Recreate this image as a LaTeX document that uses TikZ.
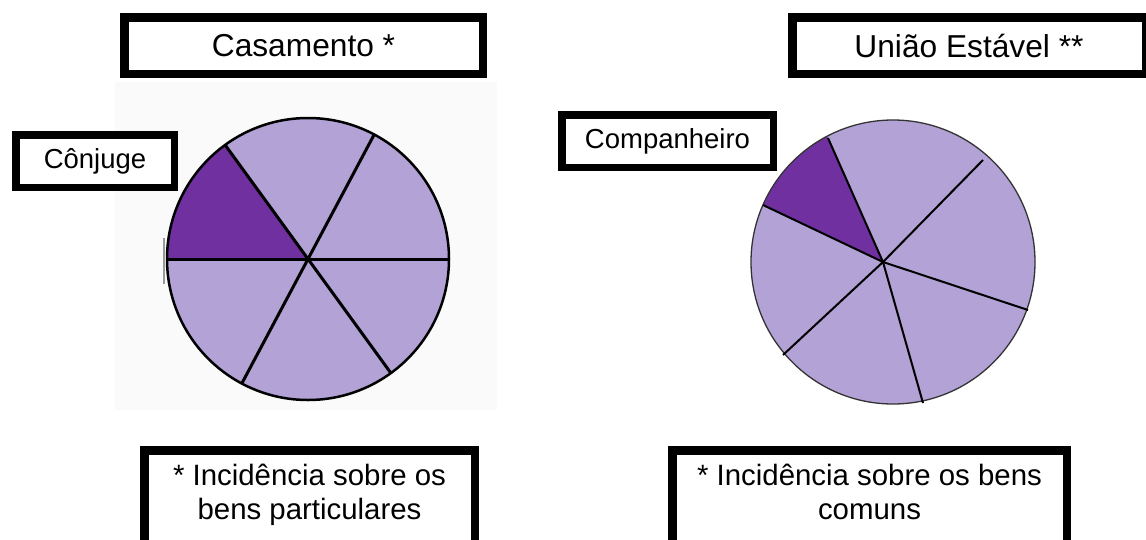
\documentclass[tikz,border=0pt]{standalone}
\usepackage{fontspec}
\setmainfont{Liberation Sans}
\usetikzlibrary{calc}
\definecolor{pielight}{HTML}{B2A2D6}
\definecolor{piedark}{HTML}{7030A0}
\definecolor{bgfaint}{HTML}{FAFAFA}
\begin{document}
\begin{tikzpicture}[x=1pt,y=1pt,
  frame/.style={draw=black, line width=8.5pt, fill=white, inner sep=0pt},
  title/.style={font=\fontsize{31.7}{36}\selectfont},
  label/.style={font=\fontsize{27.5}{32}\selectfont},
  note/.style={font=\fontsize{29.4}{34}\selectfont, anchor=base, inner sep=0pt},
  pieline/.style={draw=black, line width=3pt},
  pielineR/.style={draw=black, line width=2pt}]
\useasboundingbox (0,0) rectangle (1146,-539);
\clip (0,0) rectangle (1146,-539);
% faint background behind left pie
\fill[bgfaint] (115,-82) rectangle (497,-410);
% ---------- left pie ----------
\coordinate (cL) at (308,-259);
\fill[pielight] (cL) circle (141);
\fill[piedark] (cL) -- ($(cL)+(126:141)$) arc (126:180:141) -- cycle;
\draw[gray!80, line width=2pt] (164,-238) -- (164,-284);
\draw[black, line width=2.5pt] (cL) circle (141);
\foreach \a in {0,62,126}{
  \draw[pieline] ($(cL)+(\a:141)$) -- ($(cL)+(\a+180:141)$);
}
% ---------- right pie ----------
\coordinate (cR) at (893,-262);
\coordinate (mR) at (883,-262);
\fill[pielight] (cR) circle (142);
\fill[piedark] (mR) -- ($(cR)+(117.7:142)$) arc (117.7:156.3:142) -- cycle;
\draw[black!80, line width=1.3pt] (cR) circle (142);
\coordinate (p1) at (828,-138);
\coordinate (p2) at (763,-205);
\coordinate (p3) at (983,-160);
\coordinate (p4) at (1028,-310);
\coordinate (p5) at (923,-403);
\coordinate (p6) at (783,-355);
\foreach \p in {p1,p2,p3,p4,p5,p6}{
  \draw[pielineR] (mR) -- (\p);
}
% ---------- title boxes ----------
\node[frame, title, minimum width=358.5, minimum height=56.5] (cas) at (303.5,-45.5) {Casamento *};
\node[frame, title, minimum width=353.5, minimum height=56.5] (uni) at (969,-45.5) {União Estável **};
% ---------- label boxes ----------
\node[frame, label, line width=7.5pt, minimum width=158.5, minimum height=52.5] (con) at (95,-161) {Cônjuge};
\node[frame, label, line width=7.5pt, minimum width=211.5, minimum height=52.5] (com) at (667.5,-141) {Companheiro};
% ---------- bottom boxes ----------
\node[frame, minimum width=330.5, minimum height=110] (bl) at (309.5,-505.25) {};
\node[frame, minimum width=394.5, minimum height=110] (br) at (869.5,-505.25) {};
\node[note] (bl1) at (309.5,-485) {* Incidência sobre os};
\node[note] (bl2) at (309.5,-519) {bens particulares};
\node[note] (br1) at (869.5,-485) {* Incidência sobre os bens};
\node[note] (br2) at (869.5,-519) {comuns};
\end{tikzpicture}
\end{document}
